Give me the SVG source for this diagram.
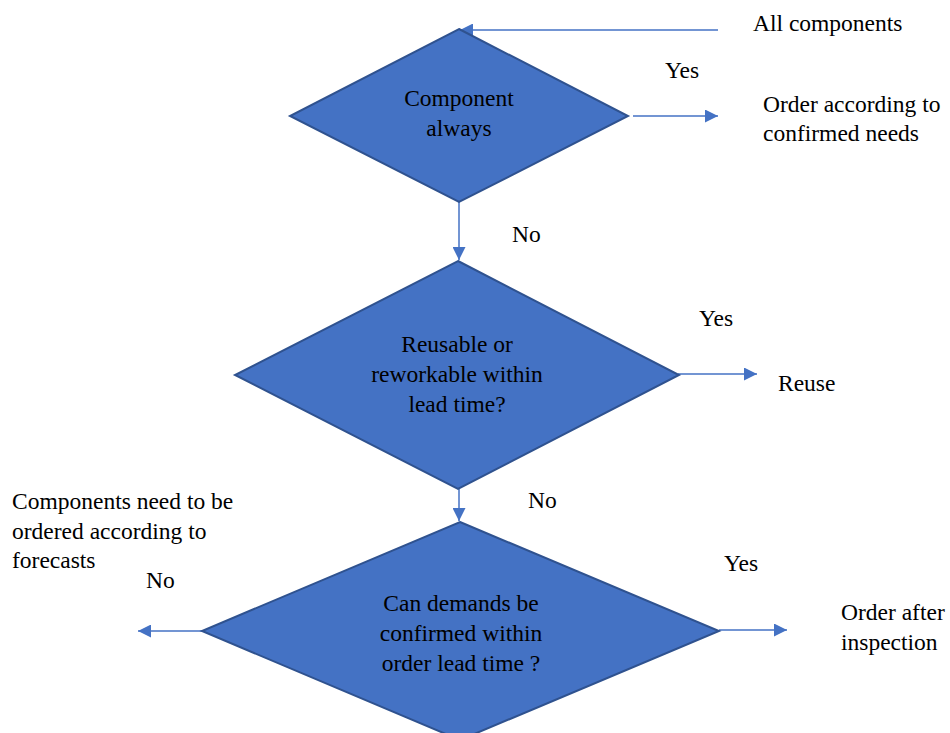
<svg xmlns="http://www.w3.org/2000/svg" width="950" height="733" viewBox="0 0 950 733">
  <style>
    .node { fill: #4472C4; stroke: #2F528F; stroke-width: 2; }
    .edge { fill: none; stroke: #4472C4; stroke-width: 1.5; }
    text { font-family: 'Liberation Serif', 'Times New Roman', serif; font-size: 23.5px; fill: #000; }
    .c { text-anchor: middle; }
  </style>
  <defs>
    <marker id="arrow" viewBox="0 0 10 10" refX="10" refY="5" markerWidth="15" markerHeight="13" markerUnits="userSpaceOnUse" orient="auto">
      <path d="M0,0 L10,5 L0,10 Z" fill="#4472C4"/>
    </marker>
  </defs>

  <!-- connectors (drawn beneath the decision shapes) -->
  <g id="connectors">
    <line class="edge" x1="718" y1="30" x2="460" y2="30" marker-end="url(#arrow)"/>
    <line class="edge" x1="633" y1="116" x2="718" y2="116" marker-end="url(#arrow)"/>
    <line class="edge" x1="459" y1="202" x2="459" y2="260" marker-end="url(#arrow)"/>
    <line class="edge" x1="678" y1="374" x2="757" y2="374" marker-end="url(#arrow)"/>
    <line class="edge" x1="459" y1="489" x2="459" y2="521" marker-end="url(#arrow)"/>
    <line class="edge" x1="202" y1="631" x2="138" y2="631" marker-end="url(#arrow)"/>
    <line class="edge" x1="719" y1="630" x2="787" y2="630" marker-end="url(#arrow)"/>
  </g>

  <!-- decision 1 -->
  <g id="decision-always">
    <polygon class="node" points="459,29 628,116 459,202 290,116"/>
    <text class="c" x="459" y="106">Component</text>
    <text class="c" x="459" y="136">always</text>
  </g>

  <!-- decision 2 -->
  <g id="decision-reuse">
    <polygon class="node" points="458,261 679,375 458,489 235,375"/>
    <text class="c" x="457" y="352">Reusable or</text>
    <text class="c" x="457" y="382">reworkable within</text>
    <text class="c" x="457" y="412">lead time?</text>
  </g>

  <!-- decision 3 (bottom tip runs off the canvas) -->
  <g id="decision-confirm">
    <polygon class="node" points="460,522 719,631 460,740 202,631"/>
    <text class="c" x="461" y="611">Can demands be</text>
    <text class="c" x="461" y="641">confirmed within</text>
    <text class="c" x="461" y="671">order lead time ?</text>
  </g>

  <!-- outcomes and branch labels -->
  <g id="label-all">
    <text x="753" y="31">All components</text>
  </g>
  <g id="label-yes-1"><text x="665" y="78">Yes</text></g>
  <g id="outcome-confirmed">
    <text x="763" y="112">Order according to</text>
    <text x="763" y="141">confirmed needs</text>
  </g>
  <g id="label-no-1"><text x="512" y="242">No</text></g>
  <g id="label-yes-2"><text x="699" y="326">Yes</text></g>
  <g id="outcome-reuse"><text x="778" y="391">Reuse</text></g>
  <g id="label-no-2"><text x="528" y="508">No</text></g>
  <g id="outcome-forecast">
    <text x="12" y="509">Components need to be</text>
    <text x="12" y="539">ordered according to</text>
    <text x="12" y="568">forecasts</text>
  </g>
  <g id="label-no-3"><text x="146" y="588">No</text></g>
  <g id="label-yes-3"><text x="724" y="571">Yes</text></g>
  <g id="outcome-inspection">
    <text x="841" y="620">Order after</text>
    <text x="841" y="650">inspection</text>
  </g>
</svg>
